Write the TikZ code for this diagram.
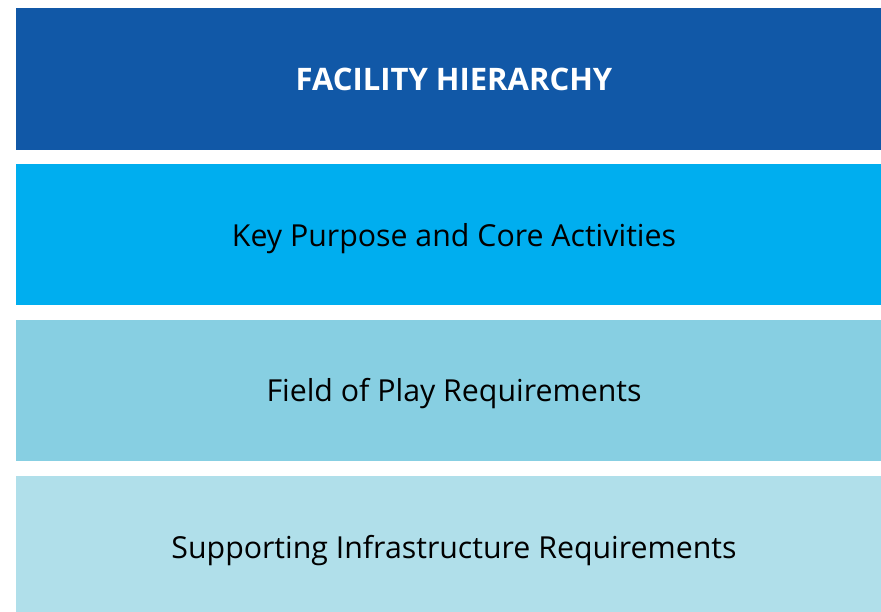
\documentclass[tikz,border=0pt]{standalone}
\usepackage{fontspec}
\setmainfont{Open Sans}
\definecolor{cdark}{HTML}{1158A7}
\definecolor{ccyan}{HTML}{00AEEF}
\definecolor{cmid}{HTML}{87CFE2}
\definecolor{clight}{HTML}{B0DFEA}
\tikzset{band/.style={draw=none,inner sep=0pt},
 lbl/.style={font=\fontsize{30.3}{34}\selectfont,text=black}}
\begin{document}
\begin{tikzpicture}[x=1pt,y=-1pt]
\useasboundingbox[fill=white] (0,0) rectangle (881,611);
\begin{scope}
\clip (0,0) rectangle (881,611);
\fill[cdark] (16,8) rectangle (881,150);
\fill[ccyan] (16,164) rectangle (881,305);
\fill[cmid] (16,320) rectangle (881,461);
\fill[clight] (16,476) rectangle (881,617);
\end{scope}
\node[lbl,text=white,font=\fontsize{31}{34}\selectfont\bfseries] (t) at (454,79) {FACILITY HIERARCHY};
\node[lbl] (k) at (454,239) {Key Purpose and Core Activities};
\node[lbl] (f) at (454,394) {Field of Play Requirements};
\node[lbl] (s) at (454,551) {Supporting Infrastructure Requirements};
\end{tikzpicture}
\end{document}
